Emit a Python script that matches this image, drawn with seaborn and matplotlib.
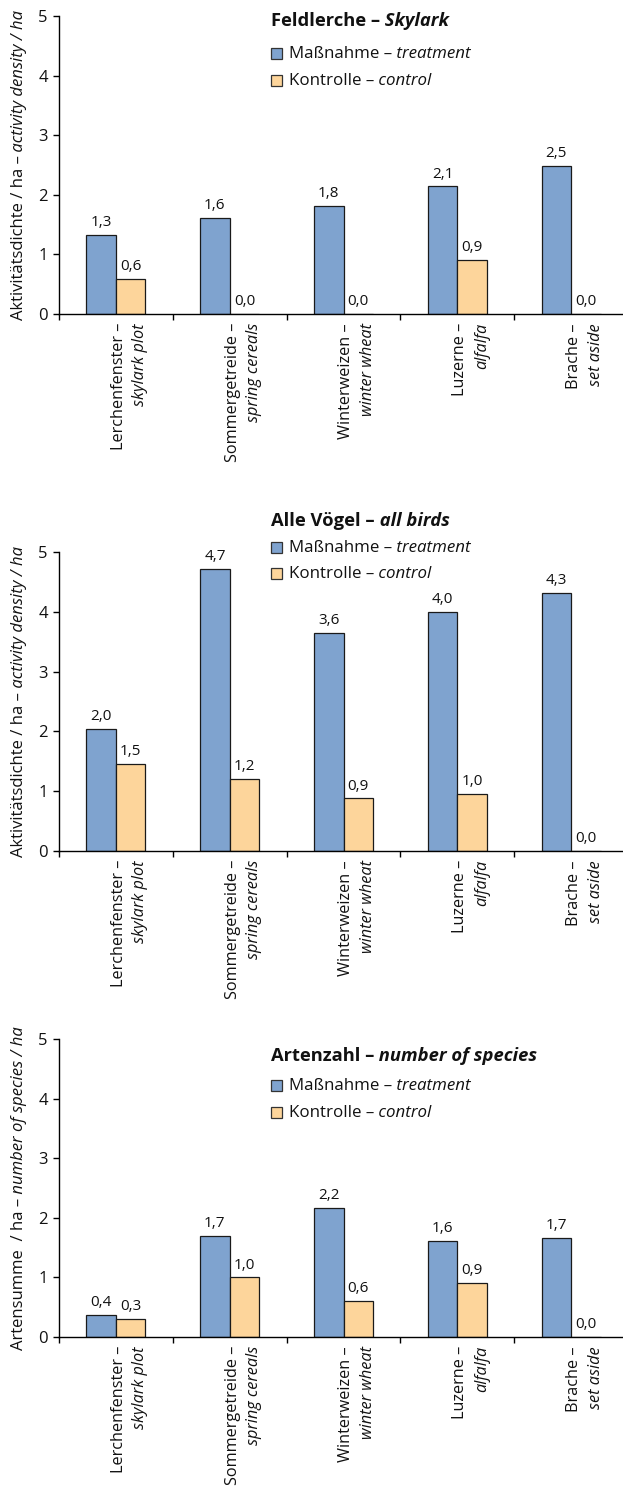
import numpy as np
import pandas as pd
import seaborn as sns
import matplotlib
matplotlib.use("Agg")
import matplotlib.pyplot as plt
import matplotlib.patches as mpatches
from matplotlib.transforms import IdentityTransform

# ---------------- data ----------------
cat_de = ["Lerchenfenster –", "Sommergetreide –", "Winterweizen –", "Luzerne –", "Brache –"]
cat_en = ["skylark plot", "spring cereals", "winter wheat", "alfalfa", "set aside"]

skylark_treat = [1.33, 1.61, 1.81, 2.14, 2.48]
skylark_ctrl = [0.59, 0.0, 0.0, 0.91, 0.0]
birds_treat = [2.04, 4.71, 3.64, 4.00, 4.32]
birds_ctrl = [1.46, 1.21, 0.88, 0.96, 0.0]
species_treat = [0.37, 1.70, 2.17, 1.61, 1.66]
species_ctrl = [0.31, 1.00, 0.60, 0.90, 0.0]

groups = [("Maßnahme –", " treatment"), ("Kontrolle –", " control")]

panels = [
    # title parts, ylabel parts, treat, ctrl
    (("Feldlerche –", " Skylark"), ("Aktivitätsdichte / ha –", " activity density / ha"),
     skylark_treat, skylark_ctrl),
    (("Alle Vögel –", " all birds"), ("Aktivitätsdichte / ha –", " activity density / ha"),
     birds_treat, birds_ctrl),
    (("Artenzahl –", " number of species"), ("Artensumme  / ha –", " number of species / ha"),
     species_treat, species_ctrl),
]

# ---------------- layout (pixels) ----------------
W, H = 623, 1501
BLUE = "#7FA3CF"
ORANGE = "#FDD59B"
# top (y=5) and bottom (y=0) of each axes, pixels from top
ax_px = [(16, 314), (552, 851), (1039, 1337)]
# title / legend rows (centre y, pixels from top)
leg_px = [(20, 53, 80), (520, 547, 573), (1055, 1085, 1112)]

sns.set_style("ticks")
plt.rcParams["font.family"] = ["Open Sans", "DejaVu Sans"]
plt.rcParams["axes.linewidth"] = 1.0

fig = plt.figure(figsize=(W / 100, H / 100), dpi=100)
renderer = fig.canvas.get_renderer()


def rich_text(x, y, parts, size, rotation=0, center=False, weight="normal"):
    # parts: list of (text, style); x, y display pixels (baseline start)
    texts = []
    for s, style in parts:
        t = fig.text(0, 0, s, transform=IdentityTransform(), fontsize=size,
                     fontstyle=style, fontweight=weight, rotation=rotation,
                     rotation_mode="anchor", ha="left", va="baseline", color="#111111")
        texts.append(t)
    sizes = []
    for t in texts:
        bb = t.get_window_extent(renderer)
        sizes.append(bb.width if rotation == 0 else bb.height)
    pos = -sum(sizes) / 2 if center else 0
    for t, s in zip(texts, sizes):
        if rotation == 0:
            t.set_position((x + pos, y))
        else:
            t.set_position((x, y + pos))
        pos += s


for k, (title, ylab, treat, ctrl) in enumerate(panels):
    top, bot = ax_px[k]
    ax = fig.add_axes([59 / W, (H - bot) / H, 569 / W, (bot - top) / H])

    df = pd.DataFrame({
        "cat": [str(i) for i in range(5)] * 2,
        "val": treat + ctrl,
        "grp": ["treat"] * 5 + ["ctrl"] * 5,
    })
    sns.barplot(data=df, x="cat", y="val", hue="grp", palette=[BLUE, ORANGE],
                saturation=1, width=0.52, gap=0, edgecolor="#1a1a1a", linewidth=0.9,
                errorbar=None, legend=False, ax=ax)

    for cont in ax.containers:
        labels = [f"{v:.1f}".replace(".", ",") for v in cont.datavalues]
        ax.bar_label(cont, labels=labels, padding=3.5, fontsize=11, color="#111111")

    ax.set_xlim(-0.5, 4.5)
    ax.set_ylim(0, 5)
    ax.set_yticks(range(6))
    ax.set_yticklabels([str(i) for i in range(6)], fontsize=12)
    ax.set_xticks(np.arange(-0.5, 5, 1))
    ax.set_xticklabels([])
    ax.set_xlabel("")
    ax.set_ylabel("")
    ax.tick_params(axis="y", length=4, width=1, pad=4, colors="black", labelcolor="#111111")
    ax.tick_params(axis="x", length=4, width=1, colors="black")
    sns.despine(ax=ax)
    ax.spines["left"].set_color("black")
    ax.spines["bottom"].set_color("black")

    # category labels: German line + English italic line
    for i in range(5):
        ax.annotate(cat_de[i], xy=(i, 0), xycoords=("data", "axes fraction"),
                    xytext=(5, -6.5), textcoords="offset points", rotation=90,
                    rotation_mode="anchor", ha="right", va="baseline", fontsize=11.7,
                    color="#111111")
        ax.annotate(cat_en[i], xy=(i, 0), xycoords=("data", "axes fraction"),
                    xytext=(20.5, -6.5), textcoords="offset points", rotation=90,
                    rotation_mode="anchor", ha="right", va="baseline", fontsize=11.7,
                    fontstyle="italic", color="#111111")

    # y label
    rich_text(23, H - (top + bot) / 2, [(ylab[0], "normal"), (ylab[1], "italic")],
              12, rotation=90, center=True)

    # title and legend
    ty, r1, r2 = leg_px[k]
    rich_text(271, H - ty - 6, [(title[0], "normal"), (title[1], "italic")], 13.2,
              weight="bold")
    for (de, en), col, ry in zip(groups, [BLUE, ORANGE], [r1, r2]):
        fig.add_artist(mpatches.Rectangle((271, H - ry - 6), 11, 11, transform=IdentityTransform(),
                                          facecolor=col, edgecolor="#333333", linewidth=0.9))
        rich_text(289, H - ry - 5, [(de, "normal"), (en, "italic")], 12.2)

fig.savefig("out.png", dpi=100)
